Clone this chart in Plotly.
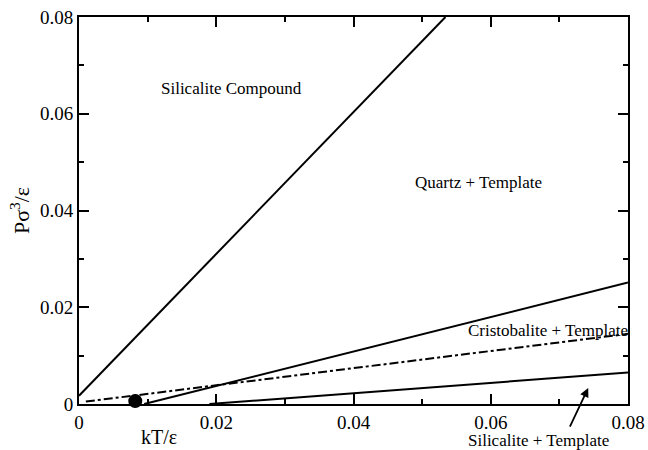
import plotly.graph_objects as go

# Phase boundary lines (kT/eps, P sigma^3/eps)
compound_x = [0.0, 0.0534]
compound_y = [0.0017, 0.08]
quartz_cristo_x = [0.0095, 0.08]
quartz_cristo_y = [0.0, 0.0251]
dashdot_x = [0.001, 0.08]
dashdot_y = [0.0005, 0.0145]
silicalite_x = [0.019, 0.08]
silicalite_y = [0.0, 0.0065]
point_x = [0.0082]
point_y = [0.0006]

labels = ["Silicalite Compound", "Quartz + Template", "Cristobalite + Template", "Silicalite + Template"]
label_x = [0.0222, 0.0582, 0.0683, 0.0670]
label_y = [0.0653, 0.0457, 0.0151, -0.0076]
arrow_tip = (0.0742, 0.0033)

tick_vals = [0, 0.02, 0.04, 0.06, 0.08]
tick_text = ["0", "0.02", "0.04", "0.06", "0.08"]

FONT = "Liberation Serif, Times New Roman, serif"
line = dict(color="black", width=2)

fig = go.Figure()
fig.add_trace(go.Scatter(x=compound_x, y=compound_y, mode="lines", line=line))
fig.add_trace(go.Scatter(x=quartz_cristo_x, y=quartz_cristo_y, mode="lines", line=line))
fig.add_trace(go.Scatter(x=dashdot_x, y=dashdot_y, mode="lines",
                         line=dict(color="black", width=2, dash="dashdot")))
fig.add_trace(go.Scatter(x=silicalite_x, y=silicalite_y, mode="lines", line=line))
fig.add_trace(go.Scatter(x=point_x, y=point_y, mode="markers",
                         marker=dict(color="black", size=14), cliponaxis=False))

for t, x, y in zip(labels[:3], label_x[:3], label_y[:3]):
    fig.add_annotation(x=x, y=y, text=t, showarrow=False,
                       font=dict(family=FONT, size=17, color="black"))

fig.add_annotation(x=arrow_tip[0], y=arrow_tip[1], ax=-19, ay=40, text="",
                   showarrow=True, arrowhead=2, arrowsize=1, arrowwidth=1.8,
                   arrowcolor="black")
# label below the axis (paper y coordinate)
fig.add_annotation(x=label_x[3], xref="x", y=label_y[3] / 0.08, yref="paper",
                   yanchor="middle", xanchor="center", borderpad=0,
                   text=labels[3], showarrow=False,
                   font=dict(family=FONT, size=17, color="black"))

fig.add_annotation(x=0.0117, xref="x", y=-0.085, yref="paper", text="kT/ε",
                   yanchor="middle", xanchor="center",
                   showarrow=False, font=dict(family=FONT, size=20, color="black"))

axis_common = dict(
    showline=True, linecolor="black", linewidth=2, mirror="allticks",
    ticks="inside", ticklen=10, tickwidth=2, tickcolor="black",
    tickvals=tick_vals, ticktext=tick_text,
    minor=dict(ticks="inside", ticklen=5, tickwidth=2, tickcolor="black", dtick=0.01),
    showgrid=False, zeroline=False, automargin=False, ticklabeloverflow="allow",
    tickfont=dict(family=FONT, size=19, color="black"),
)

fig.update_layout(
    width=648, height=450,
    margin=dict(l=79, r=20, t=17, b=46),
    paper_bgcolor="white", plot_bgcolor="white",
    showlegend=False,
    xaxis=dict(range=[0, 0.08], ticklabelstandoff=0, **axis_common),
    yaxis=dict(range=[0, 0.08],
               title=dict(text="Pσ<sup>3</sup>/ε", font=dict(family=FONT, size=22, color="black"),
                          standoff=4),
               **axis_common),
)

fig.write_html("out.html", config={"displayModeBar": False},
               post_script="document.body.style.margin='0px';document.body.style.overflow='hidden';")
